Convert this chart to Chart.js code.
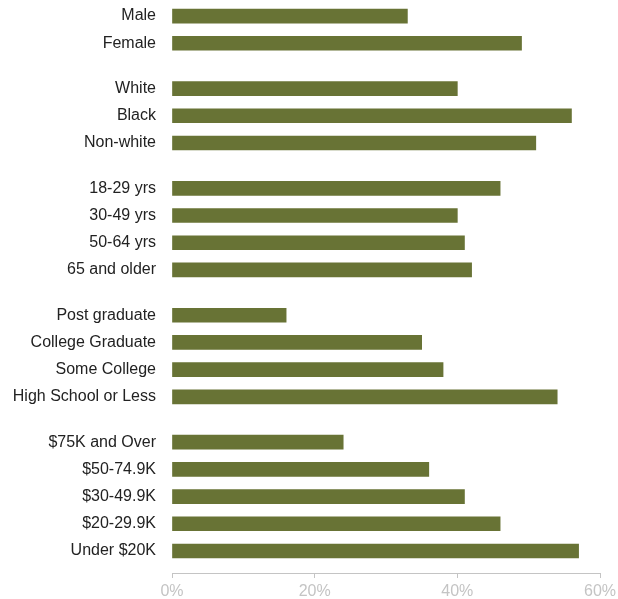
<!DOCTYPE html>
<html>
<head>
<meta charset="utf-8">
<script src="https://cdn.jsdelivr.net/npm/chart.js@4/dist/chart.umd.min.js"></script>
<style>
  html, body { margin: 0; padding: 0; background: #fff; }
  #wrap { width: 618px; height: 599px; position: relative; }
</style>
</head>
<body>
<div id="wrap"><canvas id="groups"></canvas></div>
<script>
// share (%) by group
const genderLabels = ['Male', 'Female'];
const genderValues = [33, 49];

const raceLabels = ['White', 'Black', 'Non-white'];
const raceValues = [40, 56, 51];

const ageLabels = ['18-29 yrs', '30-49 yrs', '50-64 yrs', '65 and older'];
const ageValues = [46, 40, 41, 42];

const eduLabels = ['Post graduate', 'College Graduate', 'Some College', 'High School or Less'];
const eduValues = [16, 35, 38, 54];

const incomeLabels = ['$75K and Over', '$50-74.9K', '$30-49.9K', '$20-29.9K', 'Under $20K'];
const incomeValues = [24, 36, 41, 46, 57];

const xTicks = [0, 20, 40, 60];

const groups = [
    [genderLabels, genderValues],
    [raceLabels, raceValues],
    [ageLabels, ageValues],
    [eduLabels, eduValues],
    [incomeLabels, incomeValues]
];

// rows run top to bottom, with a little extra room between groups
const GROUP_GAP = 2 / 3;
const labels = [];
const rows = [];
let pos = 0;
groups.forEach((g, gi) => {
    if (gi > 0) pos += GROUP_GAP;
    g[0].forEach((name, i) => {
        labels.push(name);
        rows.push({ x: g[1][i], y: pos });
        pos += 1;
    });
});
const lastRow = pos - 1;

const olive = '#687335';
const axisGrey = '#c4c4c4';

new Chart(document.getElementById('groups').getContext('2d'), {
    type: 'bar',
    data: {
        datasets: [{
            data: rows,
            backgroundColor: olive,
            borderWidth: 0,
            barThickness: 14
        }]
    },
    options: {
        indexAxis: 'y',
        responsive: true,
        maintainAspectRatio: false,
        animation: false,
        layout: { padding: { left: 0, right: 18, top: 0, bottom: 0 } },
        plugins: {
            legend: { display: false },
            tooltip: { enabled: false }
        },
        scales: {
            x: {
                type: 'linear',
                min: 0,
                max: 60,
                afterBuildTicks: (scale) => {
                    scale.ticks = xTicks.map(v => ({ value: v }));
                },
                afterFit: (scale) => {
                    scale.height = 26;
                    scale.paddingLeft = 0;
                    scale.paddingRight = 0;
                },
                grid: {
                    drawOnChartArea: false,
                    drawTicks: true,
                    tickLength: 5,
                    color: axisGrey
                },
                border: { display: true, color: axisGrey, width: 1 },
                ticks: {
                    padding: 4,
                    color: axisGrey,
                    font: { family: '"Liberation Sans", Arial, sans-serif', size: 16 },
                    callback: (v) => v + '%'
                }
            },
            y: {
                type: 'linear',
                reverse: true,
                offset: false,
                min: -0.59,
                max: lastRow + 0.81,
                afterBuildTicks: (scale) => {
                    scale.ticks = rows.map(r => ({ value: r.y }));
                },
                afterFit: (scale) => {
                    scale.width = 172;
                    scale.paddingTop = 0;
                    scale.paddingBottom = 0;
                },
                grid: { display: false },
                border: { display: false },
                ticks: {
                    padding: 8,
                    color: '#222',
                    autoSkip: false,
                    font: { family: '"Liberation Sans", Arial, sans-serif', size: 16 },
                    callback: (v, i) => labels[i]
                }
            }
        }
    }
});
</script>
</body>
</html>
